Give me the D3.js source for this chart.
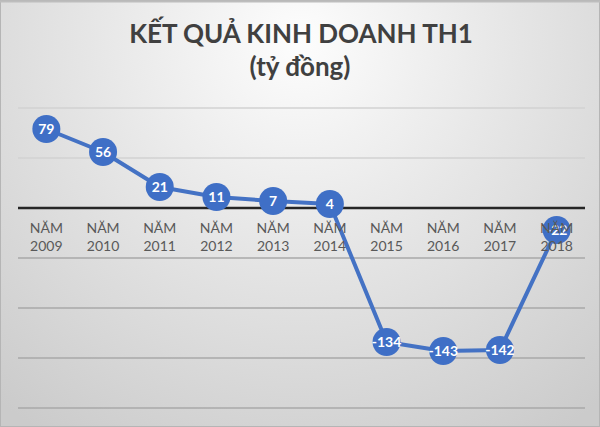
<!DOCTYPE html>
<html>
<head>
<meta charset="utf-8">
<script src="https://cdn.jsdelivr.net/npm/d3@7"></script>
<style>
  html, body { margin: 0; padding: 0; background: #fff; }
  svg { display: block; }
</style>
</head>
<body>
<svg id="chart" width="600" height="427"></svg>
<script>
const years = ["2009","2010","2011","2012","2013","2014","2015","2016","2017","2018"];
const categoryPrefix = "NĂM";
const values = [79, 56, 21, 11, 7, 4, -134, -143, -142, -22];
const gridTicks = [100, 50, 0, -50, -100, -150, -200];
const titleLine1 = "KẾT QUẢ KINH DOANH TH1";
const titleLine2 = "(tỷ đồng)";

const W = 600, H = 427;
const svg = d3.select("#chart");
const defs = svg.append("defs");

const bg = defs.append("radialGradient").attr("id", "bg")
  .attr("gradientUnits", "userSpaceOnUse")
  .attr("cx", 300).attr("cy", 40).attr("r", 470);
bg.append("stop").attr("offset", "0").attr("stop-color", "#fdfdfd");
bg.append("stop").attr("offset", "0.45").attr("stop-color", "#e6e6e6");
bg.append("stop").attr("offset", "1").attr("stop-color", "#cbcbcb");

svg.append("rect").attr("width", W).attr("height", H).attr("fill", "url(#bg)");
svg.append("rect").attr("x", 0.5).attr("y", 0.5).attr("width", W - 1).attr("height", H - 1)
  .attr("fill", "none").attr("stroke", "#b5b5b5").attr("stroke-width", 1);
svg.append("line").attr("x1", 0).attr("x2", W).attr("y1", 1.5).attr("y2", 1.5)
  .attr("stroke", "#bdbdbd").attr("stroke-width", 2);

const x = d3.scalePoint().domain(years).range([18, 585]).padding(0.5);
const y = d3.scaleLinear().domain([-200, 100]).range([408, 108]);

// gridlines
const grid = svg.append("g");
grid.selectAll("line.g").data(gridTicks.filter(t => t !== 0)).join("line")
  .attr("class", "g")
  .attr("x1", 18).attr("x2", 585)
  .attr("y1", d => y(d)).attr("y2", d => y(d))
  .attr("stroke", d => d < 0 ? "#a8a8a8" : "#d2d2d2")
  .attr("stroke-width", 1.5);

// zero axis line
svg.append("line")
  .attr("x1", 18).attr("x2", 585)
  .attr("y1", y(0)).attr("y2", y(0))
  .attr("stroke", "#262626").attr("stroke-width", 2.5);

// title
svg.append("text").attr("x", 301).attr("y", 43)
  .attr("text-anchor", "middle")
  .attr("font-family", "Lato, 'Open Sans', sans-serif")
  .attr("font-weight", "bold").attr("font-size", 26)
  .attr("fill", "#404040").text(titleLine1);
svg.append("text").attr("x", 300).attr("y", 76)
  .attr("text-anchor", "middle")
  .attr("font-family", "Lato, 'Open Sans', sans-serif")
  .attr("font-weight", "bold").attr("font-size", 26)
  .attr("fill", "#404040").text(titleLine2);

const data = years.map((yr, i) => ({ yr, v: values[i] }));

// line
const line = d3.line().x(d => x(d.yr)).y(d => y(d.v));
svg.append("path").datum(data)
  .attr("d", line)
  .attr("fill", "none")
  .attr("stroke", "#4472c4")
  .attr("stroke-width", 4)
  .attr("stroke-linejoin", "round");

// markers
const pts = svg.append("g").selectAll("g").data(data).join("g")
  .attr("transform", d => `translate(${x(d.yr)},${y(d.v)})`);
pts.append("circle").attr("r", 14).attr("fill", "#3f6fc6");
pts.append("text")
  .attr("text-anchor", "middle").attr("dy", "0.36em")
  .attr("font-family", "Lato, 'Open Sans', sans-serif")
  .attr("font-weight", "bold").attr("font-size", 14)
  .attr("fill", "#ffffff")
  .text(d => d3.format("d")(d.v).replace("−", "-"));

// category labels
const cats = svg.append("g").selectAll("text").data(years).join("text")
  .attr("x", d => x(d))
  .attr("text-anchor", "middle")
  .attr("font-family", "Lato, 'Open Sans', sans-serif")
  .attr("font-size", 14)
  .attr("fill", "#595959");
cats.append("tspan").attr("x", d => x(d)).attr("y", 233).text(categoryPrefix);
cats.append("tspan").attr("x", d => x(d)).attr("y", 251).text(d => d);
</script>
</body>
</html>
